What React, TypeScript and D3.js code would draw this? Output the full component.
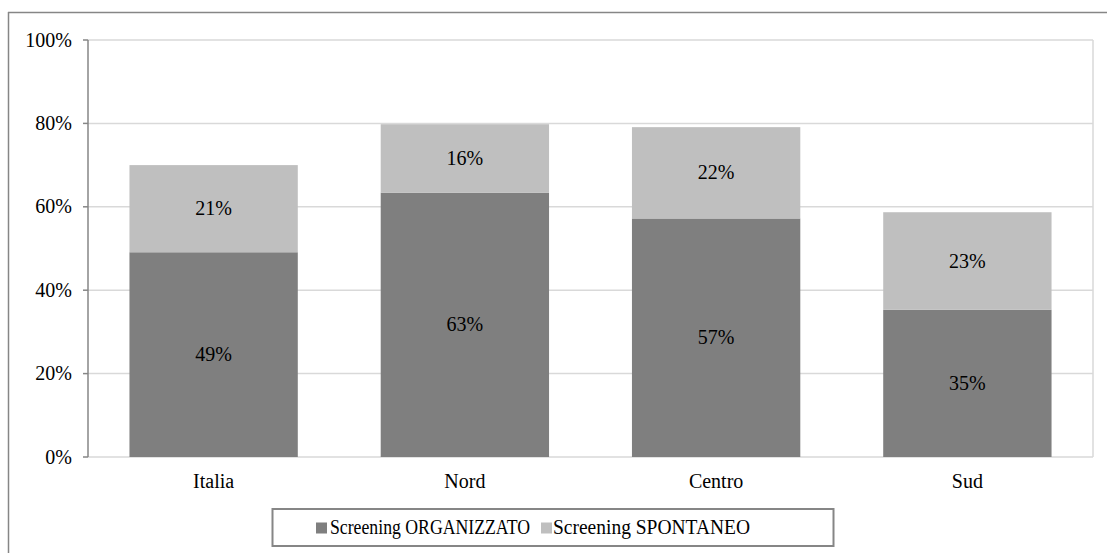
import React from "react";
import * as d3 from "d3";

const categories = ["Italia", "Nord", "Centro", "Sud"];
const organizzato = [49.1, 63.4, 57.2, 35.3];
const spontaneo = [20.9, 16.4, 21.9, 23.4];
const seriesNames = ["Screening ORGANIZZATO", "Screening SPONTANEO"];
const yTicks = [0, 20, 40, 60, 80, 100];

const W = 1107;
const H = 553;
const FONT = "Liberation Serif, Times New Roman, DejaVu Serif, serif";
const COLORS = ["#7f7f7f", "#bfbfbf"];
const txt: React.CSSProperties = { fontFamily: FONT, fontSize: "20px" };

export default function App() {
  const left = 88, right = 1093, top = 40, bottom = 457;
  const x = d3.scaleBand<string>().domain(categories).range([left, right]).paddingInner(0.33).paddingOuter(0.165);
  const y = d3.scaleLinear().domain([0, 100]).range([bottom, top]);
  const stack = categories.map((c, i) => [
    { key: 0, y0: 0, y1: organizzato[i], v: organizzato[i] },
    { key: 1, y0: organizzato[i], y1: organizzato[i] + spontaneo[i], v: spontaneo[i] },
  ]);
  const legendItems = [
    { sq: 316, tx: 330, len: 200 },
    { sq: 541, tx: 553, len: 197 },
  ];

  return (
    <svg width={W} height={H} style={{ position: "absolute", left: 0, top: 0, background: "#fff" }}>
      <rect x={0} y={0} width={W} height={H} fill="#fff" />
      <line x1={8.5} y1={12} x2={8.5} y2={H} stroke="#868686" strokeWidth={1.5} />
      <line x1={8} y1={12.5} x2={W} y2={12.5} stroke="#868686" strokeWidth={1.5} />
      {yTicks.map((t) => (
        <line key={t} x1={left} x2={right} y1={y(t)} y2={y(t)} stroke="#d9d9d9" strokeWidth={1.5} />
      ))}
      <line x1={right} x2={right} y1={top} y2={bottom} stroke="#d9d9d9" strokeWidth={1.5} />
      {stack.map((segs, i) =>
        segs.map((s) => (
          <g key={`${i}-${s.key}`}>
            <rect
              x={x(categories[i])}
              width={x.bandwidth()}
              y={y(s.y1)}
              height={y(s.y0) - y(s.y1)}
              fill={COLORS[s.key]}
            />
            <text
              x={(x(categories[i]) as number) + x.bandwidth() / 2}
              y={(y(s.y0) + y(s.y1)) / 2}
              dy="0.33em"
              textAnchor="middle"
              style={txt}
              fill="#000"
            >
              {Math.round(s.v)}%
            </text>
          </g>
        ))
      )}
      <line x1={left} x2={left} y1={top} y2={bottom} stroke="#868686" strokeWidth={1.5} />
      {yTicks.map((t) => (
        <g key={`t${t}`}>
          <line x1={left - 5} x2={left} y1={y(t)} y2={y(t)} stroke="#868686" strokeWidth={1.5} />
          <text x={left - 16} y={y(t)} dy="0.33em" textAnchor="end" style={txt} fill="#000">
            {t}%
          </text>
        </g>
      ))}
      {categories.map((c) => (
        <text key={c} x={(x(c) as number) + x.bandwidth() / 2} y={488} textAnchor="middle" style={txt} fill="#000">
          {c}
        </text>
      ))}
      <rect x={272.5} y={509} width={561} height={37} fill="#fff" stroke="#868686" strokeWidth={2} />
      {seriesNames.map((n, i) => {
        const it = legendItems[i];
        return (
          <g key={n}>
            <rect x={it.sq} y={522.5} width={11} height={11} fill={COLORS[i]} />
            <text x={it.tx} y={533.5} style={txt} fill="#000" textLength={it.len} lengthAdjust="spacingAndGlyphs">
              {n}
            </text>
          </g>
        );
      })}
    </svg>
  );
}
